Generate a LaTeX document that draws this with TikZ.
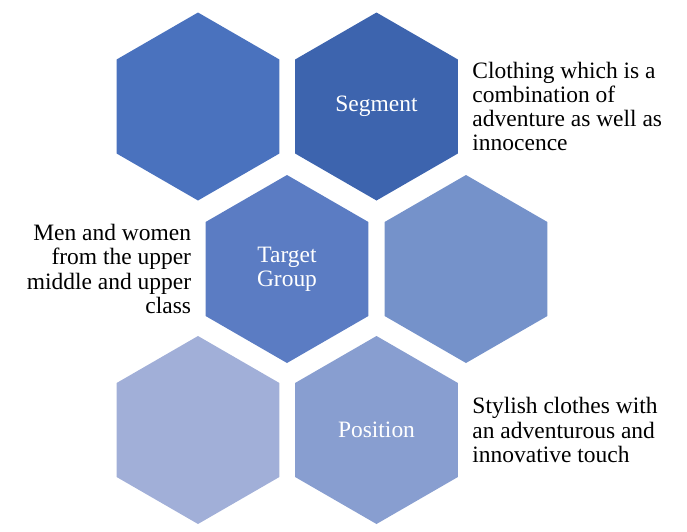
\documentclass[tikz,border=0pt]{standalone}
\usepackage{fontspec}
\setmainfont{Liberation Serif}
\usepackage{xcolor}
\usepackage{tikz}
\usetikzlibrary{positioning,shapes.geometric}
\definecolor{hexA}{HTML}{4A72BE}
\definecolor{hexB}{HTML}{3D64AE}
\definecolor{hexC}{HTML}{5B7CC3}
\definecolor{hexD}{HTML}{7592CA}
\definecolor{hexE}{HTML}{A1AFD8}
\definecolor{hexF}{HTML}{889ED0}
\tikzset{
  hexa/.style={regular polygon, regular polygon sides=6, shape border rotate=30,
    minimum size=141pt, inner sep=0pt, text=white, align=center,
    font=\fontsize{17.6}{18.2}\selectfont},
  desc/.style={inner sep=0pt, font=\fontsize{17.6}{18.2}\selectfont},
}

\begin{document}
\begin{tikzpicture}[x=0.75pt, y=-0.75pt]
  \useasboundingbox (0,0) rectangle (687,532);
  % honeycomb
  \node[hexa, fill=hexA] (tl) at (198,106.5) {};
  \node[hexa, fill=hexB] (seg) at (376.5,106.5) {Segment};
  \node[hexa, fill=hexC] (tg) at (287,269) {Target\\Group};
  \node[hexa, fill=hexD] (mr) at (466,269) {};
  \node[hexa, fill=hexE] (bl) at (198,430) {};
  \node[hexa, fill=hexF] (pos) at (376.5,430) {Position};
  % descriptions
  \node[desc, align=left, right=10.5pt of seg] (segtxt)
    {Clothing which is a\\combination of\\adventure as well as\\innocence};
  \node[desc, align=right, left=10.5pt of tg] (tgtxt)
    {Men and women\\from the upper\\middle and upper\\class};
  \node[desc, align=left, right=10.5pt of pos] (postxt)
    {Stylish clothes with\\an adventurous and\\innovative touch};
\end{tikzpicture}
\end{document}
